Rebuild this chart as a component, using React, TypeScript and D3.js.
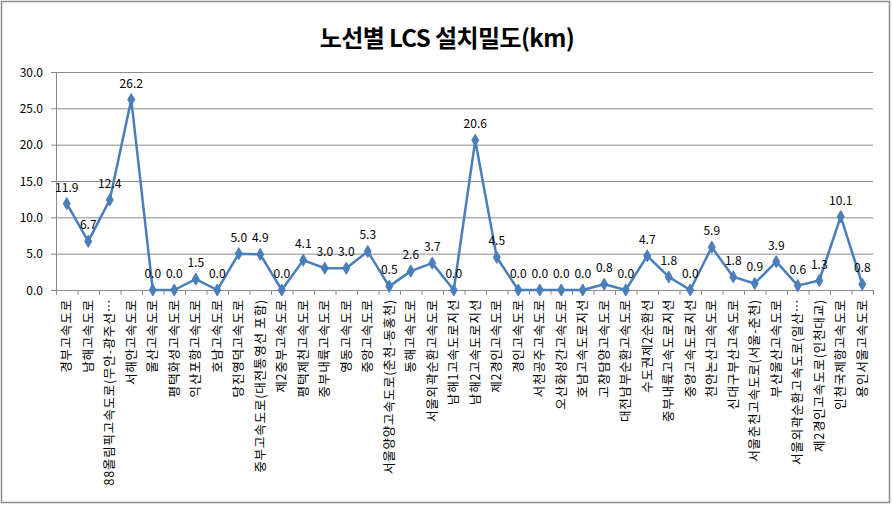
import React from "react";
import * as d3 from "d3";

const categories: string[] = [
  "경부고속도로",
  "남해고속도로",
  "88올림픽고속도로(무안-광주선…",
  "서해안고속도로",
  "울산고속도로",
  "평택화성고속도로",
  "익산포항고속도로",
  "호남고속도로",
  "당진영덕고속도로",
  "중부고속도로(대전통영선 포함)",
  "제2중부고속도로",
  "평택제천고속도로",
  "중부내륙고속도로",
  "영동고속도로",
  "중앙고속도로",
  "서울양양고속도로(춘천-동홍천)",
  "동해고속도로",
  "서울외곽순환고속도로",
  "남해1고속도로지선",
  "남해2고속도로지선",
  "제2경인고속도로",
  "경인고속도로",
  "서천공주고속도로",
  "오산화성간고속도로",
  "호남고속도로지선",
  "고창담양고속도로",
  "대전남부순환고속도로",
  "수도권제2순환선",
  "중부내륙고속도로지선",
  "중앙고속도로지선",
  "천안논산고속도로",
  "신대구부산고속도로",
  "서울춘천고속도로(서울-춘천)",
  "부산울산고속도로",
  "서울외곽순환고속도로(일산…",
  "제2경인고속도로(인천대교)",
  "인천국제항고속도로",
  "용인서울고속도로",
];

const values: number[] = [
  11.9, 6.7, 12.4, 26.2, 0.0, 0.0, 1.5, 0.0, 5.0, 4.9, 0.0, 4.1, 3.0, 3.0, 5.3,
  0.5, 2.6, 3.7, 0.0, 20.6, 4.5, 0.0, 0.0, 0.0, 0.0, 0.8, 0.0, 4.7, 1.8, 0.0,
  5.9, 1.8, 0.9, 3.9, 0.6, 1.3, 10.1, 0.8,
];

const yTicks: number[] = [0, 5, 10, 15, 20, 25, 30];

const W = 892;
const H = 506;
const plot = { left: 56, right: 873, top: 72, bottom: 290 };
const FONT = "'Noto Sans CJK KR', 'Noto Sans', sans-serif";
const LINE = "#4A7EBB";

export default function App() {
  const x = d3
    .scaleBand<string>()
    .domain(categories)
    .range([plot.left, plot.right])
    .paddingInner(0)
    .paddingOuter(0);
  const y = d3.scaleLinear().domain([0, 30]).range([plot.bottom, plot.top]);
  const cx = (c: string) => (x(c) as number) + x.bandwidth() / 2;

  const line = d3
    .line<number>()
    .x((_, i) => cx(categories[i]))
    .y((d) => y(d));

  const diamond = d3.symbol().type(d3.symbolDiamond).size(42)() as string;

  const boundaries = d3.range(categories.length + 1).map(
    (i) => plot.left + i * x.bandwidth()
  );

  return (
    <svg
      width={W}
      height={H}
      style={{ position: "absolute", left: 0, top: 0, background: "#fff" }}
      fontFamily={FONT}
    >
      <rect x={1.5} y={1.5} width={888} height={501} fill="#fff" stroke="#8c8c8c" strokeWidth={1.5} />
      <text
        x={447}
        y={47}
        textAnchor="middle"
        fontSize={24}
        fontWeight="bold"
        fill="#000"
        letterSpacing={-0.6}
      >
        노선별 LCS 설치밀도(km)
      </text>

      {/* gridlines */}
      {yTicks.map((t) => (
        <line
          key={"g" + t}
          x1={plot.left}
          x2={plot.right}
          y1={y(t) + 0.5}
          y2={y(t) + 0.5}
          stroke="#8a8a8a"
          strokeWidth={1}
        />
      ))}
      {/* y axis */}
      <line x1={plot.left + 0.5} x2={plot.left + 0.5} y1={plot.top} y2={plot.bottom} stroke="#8a8a8a" />
      {yTicks.map((t) => (
        <g key={"yt" + t}>
          <line x1={plot.left - 5} x2={plot.left} y1={y(t) + 0.5} y2={y(t) + 0.5} stroke="#8a8a8a" />
          <text x={43} y={y(t) + 4.5} textAnchor="end" fontSize={12} fill="#000">
            {t.toFixed(1)}
          </text>
        </g>
      ))}
      {/* x ticks */}
      {boundaries.map((b, i) => (
        <line
          key={"xt" + i}
          x1={b + 0.5}
          x2={b + 0.5}
          y1={plot.bottom}
          y2={plot.bottom + 5}
          stroke="#8a8a8a"
        />
      ))}
      {/* x labels */}
      {categories.map((c) => (
        <text
          key={"xl" + c}
          transform={`translate(${cx(c) + 4.5},${plot.bottom + 9}) rotate(-90)`}
          textAnchor="end"
          fontSize={12.5}
          letterSpacing={0.8}
          fill="#000"
        >
          {c}
        </text>
      ))}

      <path d={line(values) as string} fill="none" stroke={LINE} strokeWidth={2.5} strokeLinejoin="round" />
      {values.map((v, i) => (
        <path
          key={"m" + i}
          d={diamond}
          transform={`translate(${cx(categories[i])},${y(v)})`}
          fill={LINE}
          stroke={LINE}
        />
      ))}
      {values.map((v, i) => (
        <text
          key={"dl" + i}
          x={cx(categories[i])}
          y={y(v) - 12}
          textAnchor="middle"
          fontSize={12}
          fill="#000"
        >
          {v.toFixed(1)}
        </text>
      ))}
    </svg>
  );
}
